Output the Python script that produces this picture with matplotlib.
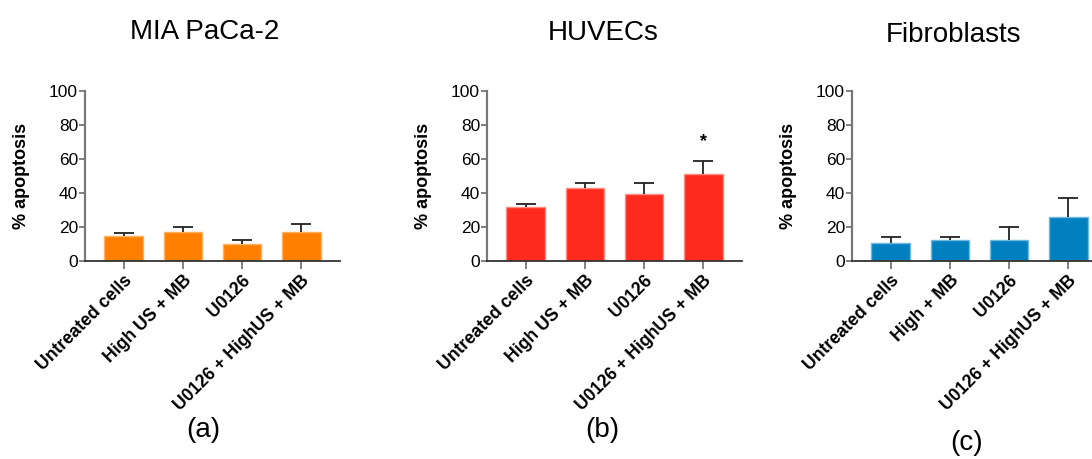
import matplotlib
matplotlib.use("Agg")
import matplotlib.pyplot as plt

plt.rcParams['font.family'] = ['Liberation Sans', 'DejaVu Sans']

titles = ["MIA PaCa-2", "HUVECs", "Fibroblasts"]
panel_labels = ["(a)", "(b)", "(c)"]
cats_a = ["Untreated cells", "High US + MB", "U0126", "U0126 + HighUS + MB"]
cats_b = ["Untreated cells", "High US + MB", "U0126", "U0126 + HighUS + MB"]
cats_c = ["Untreated cells", "High + MB", "U0126", "U0126 + HighUS + MB"]
vals_a = [14.5, 17.0, 10.0, 17.0]
errs_a = [2.0, 3.0, 2.5, 4.5]
vals_b = [32.0, 43.0, 39.5, 51.0]
errs_b = [1.5, 3.0, 6.5, 8.0]
vals_c = [10.5, 12.5, 12.5, 26.0]
errs_c = [3.5, 1.5, 7.5, 11.0]
colors = ["#FF8000", "#FF2A1E", "#0080BF"]
edge_colors = ["#FFB060", "#FF8C84", "#70B8E0"]
yticks = [0, 20, 40, 60, 80, 100]

W, H = 1092, 459
fig = plt.figure(figsize=(W / 100, H / 100), dpi=100)

lefts = [85, 487, 852]
bottom, top = 261, 91
axw = 255

data = [(cats_a, vals_a, errs_a), (cats_b, vals_b, errs_b), (cats_c, vals_c, errs_c)]
title_pos = [(205, 39), (603, 40), (953, 42)]
label_pos = [(203, 430), (602, 430), (967, 443)]

for i, (cats, vals, errs) in enumerate(data):
    ax = fig.add_axes([lefts[i] / W, 1 - bottom / H, axw / W, (bottom - top) / H])
    x = list(range(len(cats)))
    ax.bar(x, vals, width=0.66, color=colors[i], edgecolor=edge_colors[i], linewidth=1.0, zorder=2)
    _, caps, _ = ax.errorbar(x, vals, yerr=[[0] * len(errs), errs], fmt='none', ecolor='#222222',
                             elinewidth=1.3, capsize=7.5, capthick=1.3, zorder=3)
    # hide the caps at the bar top (lower error is zero)
    for c in caps:
        yd = list(c.get_ydata())
        if all(abs(a - b) < 1e-9 for a, b in zip(yd, vals)):
            c.set_visible(False)
    ax.set_xlim(-0.66, 3.66)
    ax.set_ylim(0, 100)
    ax.set_yticks(yticks)
    ax.set_yticklabels([str(t) for t in yticks], fontsize=12.5)
    ax.set_xticks(x)
    ax.set_xticklabels(cats, rotation=45, ha='right', rotation_mode='anchor',
                       fontsize=12.7, fontweight='bold')
    for s in ['top', 'right']:
        ax.spines[s].set_visible(False)
    ax.spines['left'].set_color('#777777')
    ax.spines['left'].set_linewidth(1.6)
    ax.spines['bottom'].set_color('#333333')
    ax.spines['bottom'].set_linewidth(1.3)
    ax.tick_params(axis='y', length=4, width=1.3, color='#777777', pad=1)
    ax.tick_params(axis='x', length=6, width=1.3, color='#777777', pad=2)
    ax.set_ylabel("% apoptosis", fontsize=13, fontweight='bold')
    ax.yaxis.set_label_coords(-0.215, 0.5)
    if i == 1:
        ax.text(3, 70, "*", ha='center', va='center', fontsize=13, fontweight='bold')
    fig.text(title_pos[i][0] / W, 1 - title_pos[i][1] / H, titles[i], fontsize=20,
             ha='center', va='baseline')
    fig.text(label_pos[i][0] / W, 1 - label_pos[i][1] / H, panel_labels[i], fontsize=20,
             ha='center', va='center')

fig.savefig("out.png", dpi=100)
